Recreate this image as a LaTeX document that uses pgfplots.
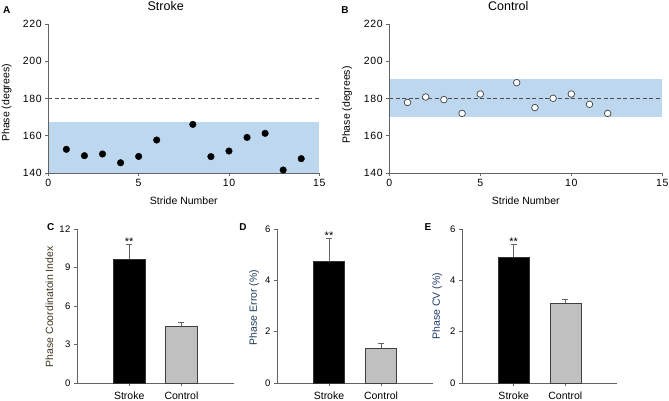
\documentclass[border=0pt]{standalone}
\usepackage{fontspec}
\setmainfont{Liberation Sans}
\newfontfamily\wideticks[LetterSpace=6]{Liberation Sans}
\usepackage{pgfplots}
\pgfplotsset{compat=1.18}

\definecolor{bandblue}{RGB}{189,215,238}
\definecolor{axgray}{RGB}{100,100,100}
\definecolor{ctrlgray}{RGB}{192,192,192}
\definecolor{ylabC}{RGB}{60,54,28}
\definecolor{ylabD}{RGB}{30,58,88}
\definecolor{ylabE}{RGB}{30,55,105}

\pgfplotsset{
  base/.style={
    scale only axis,
    anchor=south west,
    axis lines=left,
    axis line style={axgray,-,line width=0.7pt},
    tick style={axgray,line width=0.6pt},
    tick align=outside,
    major tick length=3pt,
    /pgf/number format/assume math mode=true,
    ticklabel style={font=\wideticks\fontsize{10.5}{12}\selectfont},
    label style={font=\fontsize{10.5}{12}\selectfont},
    clip=false,
  },
  scat/.style={
    base,
    axis on top,
    width=271pt, height=149pt,
    xmin=0, xmax=15, ymin=140, ymax=220,
    xtick={0,5,10,15}, ytick={140,160,...,220},
    xlabel={Stride Number},
    ylabel={Phase (degrees)},
    xlabel style={at={(axis description cs:0.5,-0.186)},anchor=center},
  },
  barax/.style={
    base,
    height=154pt,
    xmin=0, xmax=3, ymin=0,
    xtick={1,2}, xticklabels={Stroke,Control},
    xticklabel style={font=\fontsize{10.5}{12}\selectfont, yshift=-2pt},
    yticklabel style={font=\wideticks\fontsize{9.5}{11}\selectfont},
  },
  strokebar/.style={
    ybar, bar width=0.6, bar shift=0pt, fill=black, draw=black!80,
    error bars/.cd, y dir=plus, y explicit,
    error bar style={axgray,line width=0.8pt},
    error mark options={rotate=90,mark size=3pt,axgray,line width=0.8pt},
  },
  ctrlbar/.style={
    ybar, bar width=0.6, bar shift=0pt, fill=ctrlgray, draw=black!75, line width=0.6pt,
    error bars/.cd, y dir=plus, y explicit,
    error bar style={axgray,line width=0.8pt},
    error mark options={rotate=90,mark size=3pt,axgray,line width=0.8pt},
  },
}

\begin{document}
\begin{tikzpicture}
\path[use as bounding box] (0,0) rectangle (669pt,401pt);

% ---------- Panel A ----------
\begin{axis}[scat, at={(48.3pt,228pt)},
  ylabel style={at={(axis description cs:-0.154,0.47)},anchor=center}]
\addplot[fill=bandblue, draw=none, forget plot] coordinates {(0,140) (15,140) (15,167.2) (0,167.2)} -- cycle;
\addplot[black!70, dash pattern=on 4pt off 2.5pt, line width=0.8pt] coordinates {(0,180) (15,180)};
\addplot[only marks, mark=*, mark size=3.3pt, black] coordinates {
(1,152.7) (2,149.3) (3,150.2) (4,145.5) (5,148.9) (6,157.7) (8,166.1)
(9,148.8) (10,151.8) (11,159.1) (12,161.3) (13,141.6) (14,147.7)};
\node[font=\fontsize{12.5}{14}\selectfont] at (axis description cs:0.433,1.121) {Stroke};
\node[font=\bfseries\fontsize{10}{12}\selectfont] at (axis description cs:-0.1535,1.094) {A};
\end{axis}

% ---------- Panel B ----------
\begin{axis}[scat, at={(389.3pt,228pt)}, width=273pt,
  ylabel style={at={(axis description cs:-0.154,0.456)},anchor=center}]
\addplot[fill=bandblue, draw=none, forget plot] coordinates {(0,170.2) (15,170.2) (15,190.5) (0,190.5)} -- cycle;
\addplot[black!70, dash pattern=on 4pt off 2.5pt, line width=0.8pt] coordinates {(0,180) (15,180)};
\addplot[only marks, mark=*, mark size=3.3pt, draw=black!75, fill=white, line width=0.7pt] coordinates {
(1,177.9) (2,180.8) (3,179.4) (4,172.0) (5,182.4) (7,188.5) (8,175.1)
(9,180.1) (10,182.4) (11,176.9) (12,172.0)};
\node[font=\fontsize{12.5}{14}\selectfont] at (axis description cs:0.436,1.121) {Control};
\node[font=\bfseries\fontsize{10}{12}\selectfont] at (axis description cs:-0.162,1.094) {B};
\end{axis}

% ---------- Panel C ----------
\begin{axis}[barax, at={(77pt,18pt)}, width=156.7pt, ymax=12, ytick={0,3,...,12},
  ylabel={Phase Coordinatoin Index},
  ylabel style={at={(axis description cs:-0.177,0.495)},anchor=center,text=ylabC}]
\addplot[strokebar] coordinates {(1,9.64) +- (0,1.19)};
\addplot[ctrlbar] coordinates {(2,4.44) +- (0,0.31)};
\node[anchor=base, yshift=-1pt, font=\fontsize{11}{12}\selectfont] at (axis cs:1,10.83) {**};
\node[font=\bfseries\fontsize{10}{12}\selectfont] at (axis description cs:-0.168,1.015) {C};
\end{axis}

% ---------- Panel D ----------
\begin{axis}[barax, at={(277pt,18pt)}, width=156pt, ymax=6, ytick={0,2,...,6},
  ylabel={Phase Error (\%)},
  ylabel style={at={(axis description cs:-0.147,0.49)},anchor=center,text=ylabD}]
\addplot[strokebar] coordinates {(1,4.73) +- (0,0.91)};
\addplot[ctrlbar] coordinates {(2,1.35) +- (0,0.20)};
\node[anchor=base, yshift=-1pt, font=\fontsize{11}{12}\selectfont] at (axis cs:1,5.64) {**};
\node[font=\bfseries\fontsize{10}{12}\selectfont] at (axis description cs:-0.218,1.015) {D};
\end{axis}

% ---------- Panel E ----------
\begin{axis}[barax, at={(462pt,18pt)}, width=155pt, ymax=6, ytick={0,2,...,6},
  ylabel={Phase CV (\%)},
  ylabel style={at={(axis description cs:-0.161,0.5)},anchor=center,text=ylabE}]
\addplot[strokebar] coordinates {(1,4.92) +- (0,0.48)};
\addplot[ctrlbar] coordinates {(2,3.12) +- (0,0.15)};
\node[anchor=base, yshift=-1pt, font=\fontsize{11}{12}\selectfont] at (axis cs:1,5.40) {**};
\node[font=\bfseries\fontsize{10}{12}\selectfont] at (axis description cs:-0.219,1.015) {E};
\end{axis}
\end{tikzpicture}
\end{document}
